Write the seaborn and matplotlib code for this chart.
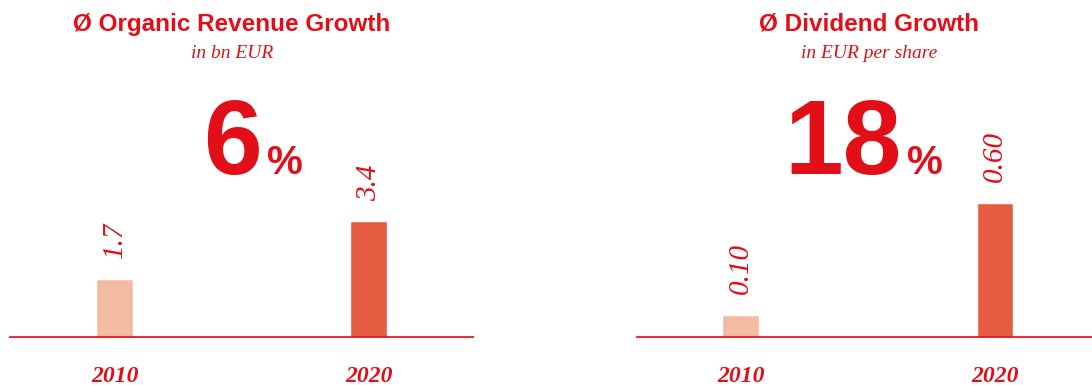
import matplotlib
matplotlib.use("Agg")
import matplotlib.pyplot as plt
import seaborn as sns
import pandas as pd

# ---- data ----
years = ["2010", "2020"]
revenue = [1.7, 3.4]
revenue_labels = ["1.7", "3.4"]
dividend = [0.10, 0.60]
dividend_labels = ["0.10", "0.60"]
titles = ["Ø Organic Revenue Growth", "Ø Dividend Growth"]
subtitles = ["in bn EUR", "in EUR per share"]
growth = ["6", "18"]

RED = "#E20E18"
LIGHT = "#F4BBA3"
DARK = "#E55C41"

sns.set_theme(style="white")
plt.rcParams["font.family"] = ["Liberation Sans", "DejaVu Sans"]

W, H = 1092, 386
fig = plt.figure(figsize=(W / 100, H / 100), dpi=100)
fig.patch.set_facecolor("white")

def px_axes(x0, x1, ybase, ytop):
    return fig.add_axes([x0 / W, (H - ybase) / H, (x1 - x0) / W, (ybase - ytop) / H])

panels = [
    dict(x0=10, x1=473, vals=revenue, labs=revenue_labels, ytop=6.97, xlim=(-0.413, 1.410)),
    dict(x0=637, x1=1092, vals=dividend, labs=dividend_labels, ytop=1.063, xlim=(-0.409, 1.382)),
]

for p in panels:
    ax = px_axes(p["x0"], p["x1"], 337, 100)
    df = pd.DataFrame({"year": years, "value": p["vals"]})
    sns.barplot(data=df, x="year", y="value", hue="year",
                palette=[LIGHT, DARK], width=0.145, legend=False,
                saturation=1, ax=ax)
    ax.set_xlim(*p["xlim"])
    ax.set_ylim(0, p["ytop"])
    ax.set_facecolor("none")
    for s in ["top", "right", "left"]:
        ax.spines[s].set_visible(False)
    ax.spines["bottom"].set_color(RED)
    ax.spines["bottom"].set_alpha(0.85)
    ax.spines["bottom"].set_linewidth(1.5)
    ax.spines["bottom"].set_zorder(5)
    ax.set_xlabel("")
    ax.set_ylabel("")
    ax.set_yticks([])
    ax.tick_params(axis="x", length=0, pad=21)
    for t in ax.get_xticklabels():
        t.set_fontfamily("Liberation Serif")
        t.set_fontstyle("italic")
        t.set_fontweight("bold")
        t.set_fontsize(17)
        t.set_color(RED)
    for cont, lab in zip(ax.containers, p["labs"]):
        ax.bar_label(cont, labels=[lab], padding=15, rotation=90,
                     fontfamily="Liberation Serif", fontstyle="italic",
                     fontsize=21, color=RED)

# titles and subtitles
title_x = [232, 869]
for tx, t, st in zip(title_x, titles, subtitles):
    fig.text(tx / W, 1 - 24 / H, t, ha="center", va="center",
             fontsize=17.5, fontweight="bold", color=RED,
             family="Liberation Sans")
    fig.text(tx / W, 1 - 53 / H, st, ha="center", va="center",
             fontsize=14, fontstyle="italic", color=RED,
             family="Liberation Serif")

# big growth numbers
num_right = [262, 902]
for xr, g in zip(num_right, growth):
    fig.text(xr / W, 1 - 174 / H, g, ha="right", va="baseline",
             fontsize=76, fontweight="bold", color=RED,
             family="Liberation Sans")
    fig.text((xr + 5) / W, 1 - 174 / H, "%", ha="left", va="baseline",
             fontsize=29, fontweight="bold", color=RED,
             family="Liberation Sans")

fig.savefig("out.png", dpi=100, facecolor="white")
